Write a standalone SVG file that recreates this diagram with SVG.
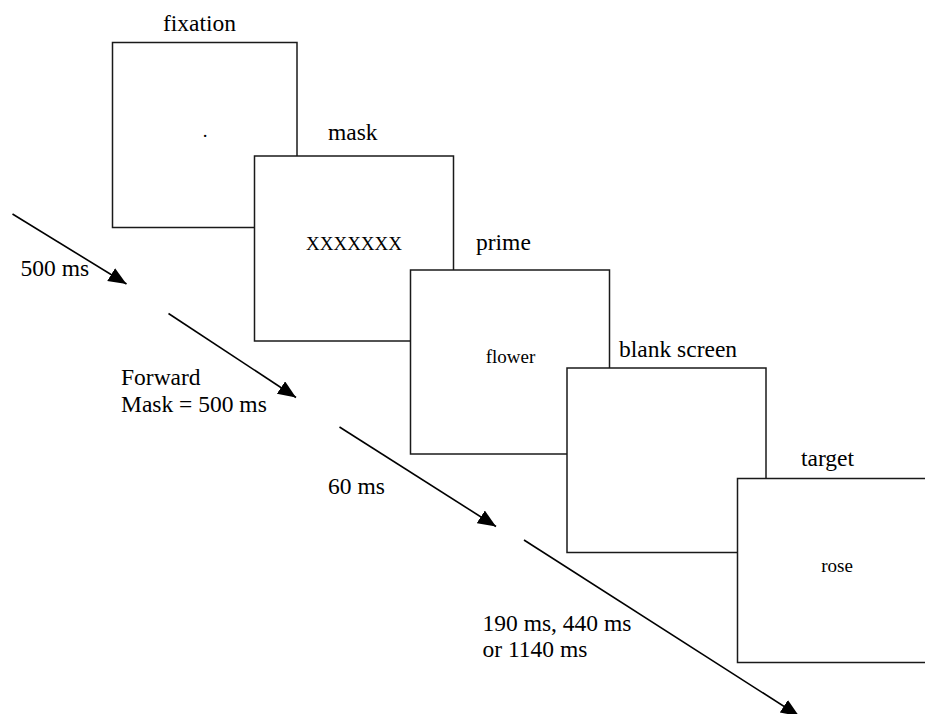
<svg xmlns="http://www.w3.org/2000/svg" width="925" height="714" viewBox="0 0 925 714">
<defs>
<style>
.box{fill:#fff;stroke:#1a1a1a;stroke-width:1.5}
.lbl{font-family:"Liberation Serif","Times New Roman",serif;font-size:23.5px;fill:#000}
.in{font-family:"Liberation Serif","Times New Roman",serif;font-size:19px;fill:#000}
.arr{stroke:#000;stroke-width:1.6;fill:none;marker-end:url(#ah)}
</style>
<marker id="ah" markerUnits="userSpaceOnUse" markerWidth="20" markerHeight="16" refX="18" refY="7.5" orient="auto">
<path d="M0,0 L18,7.5 L0,15 Z" fill="#000"/>
</marker>
</defs>
<rect width="925" height="714" fill="#fff"/>
<g id="fixation">
<rect class="box" x="112.5" y="42.5" width="184.5" height="185"/>
<text class="lbl" x="163" y="30.5">fixation</text>
<text class="in" x="205" y="136.5" text-anchor="middle">.</text>
</g>
<g id="mask">
<rect class="box" x="254.5" y="156" width="199" height="185"/>
<text class="lbl" x="328" y="140">mask</text>
<text class="in" x="354" y="249.5" text-anchor="middle">XXXXXXX</text>
</g>
<g id="prime">
<rect class="box" x="410.5" y="270" width="199" height="184"/>
<text class="lbl" x="476" y="250">prime</text>
<text class="in" x="510.5" y="363" text-anchor="middle">flower</text>
</g>
<g id="blank">
<rect class="box" x="567" y="368" width="199" height="184.5"/>
<text class="lbl" x="619" y="357">blank screen</text>
</g>
<g id="target">
<rect class="box" x="737.5" y="478.5" width="200" height="184"/>
<text class="lbl" x="801" y="466">target</text>
<text class="in" x="837" y="571.5" text-anchor="middle">rose</text>
</g>
<g id="connectors">
<line class="arr" x1="12.5" y1="214" x2="126.5" y2="284"/>
<line class="arr" x1="168.5" y1="313.5" x2="296" y2="397.5"/>
<line class="arr" x1="339.5" y1="427" x2="496" y2="526.5"/>
<line class="arr" x1="524" y1="540" x2="799" y2="716"/>
</g>
<g id="labels">
<text class="lbl" x="20.5" y="276">500 ms</text>
<text class="lbl" x="121" y="385">Forward</text>
<text class="lbl" x="121" y="412">Mask = 500 ms</text>
<text class="lbl" x="328" y="493.5">60 ms</text>
<text class="lbl" x="482.5" y="630.5">190 ms, 440 ms</text>
<text class="lbl" x="482.5" y="657">or 1140 ms</text>
</g>
</svg>
